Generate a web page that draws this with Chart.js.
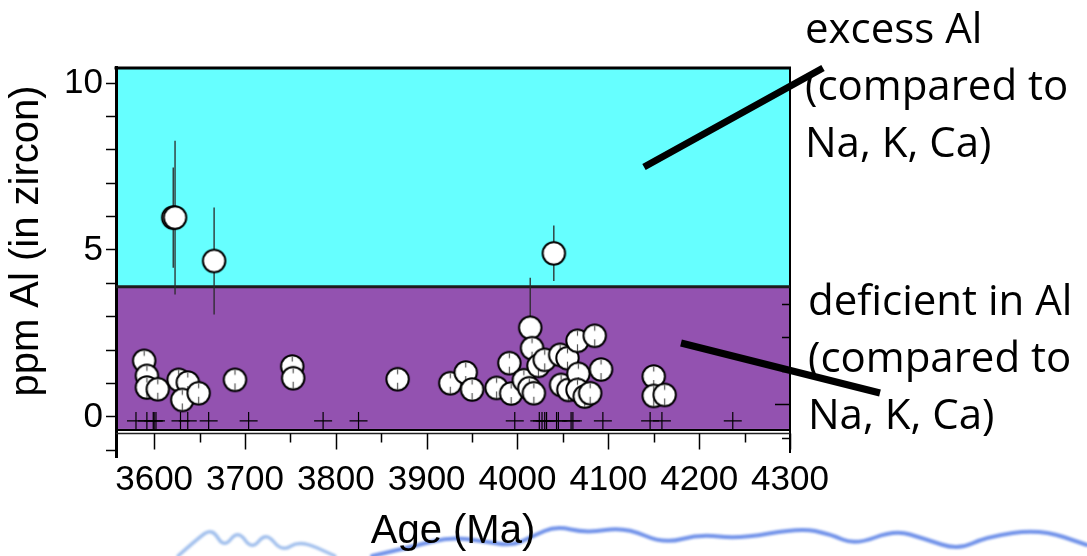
<!DOCTYPE html>
<html>
<head>
<meta charset="utf-8">
<title>Al in Hadean zircon</title>
<script src="https://cdn.jsdelivr.net/npm/chart.js@4.4.1/dist/chart.umd.min.js"></script>
<style>
  html, body { margin: 0; padding: 0; background: #fff; overflow: hidden; }
  canvas { display: block; }
</style>
</head>
<body>
<canvas id="c" width="1087" height="556"></canvas>
<script>
// ---- axis ticks ----
const ageTicks = [3600, 3700, 3800, 3900, 4000, 4100, 4200, 4300];
const ageMinorTicks = [3650, 3750, 3850, 3950, 4050, 4150, 4250];
const alTicks = [-1, 0, 1, 2, 3, 4, 5, 6, 7, 8, 9, 10];
const alTickLabels = [0, 5, 10];
const alRightTicks = [-0.63, 0.39, 1.39, 2.39, 3.39];

// ---- zircon grains with measured Al (ppm) ----
const grainAge = [3589, 3592, 3592, 3604, 3627, 3637, 3631, 3649, 3689, 3752,
                  3753, 3868, 3926, 3943, 3950, 3977, 3991, 3993, 4014, 4016,
                  4007, 4013, 4018, 4023, 4030, 4047, 4055, 4066, 4085, 4048,
                  4056, 4067, 4092, 4066, 4074, 4080, 4150, 4150, 4162,
                  3621, 3623, 3666, 4040];
const grainAl  = [1.68, 1.23, 0.88, 0.83, 1.11, 1.03, 0.51, 0.71, 1.11, 1.51,
                  1.16, 1.13, 1.01, 1.33, 0.82, 0.87, 1.61, 0.70, 2.67, 2.06,
                  1.10, 0.86, 0.71, 1.53, 1.71, 1.86, 1.76, 2.28, 2.43, 0.96,
                  0.81, 1.29, 1.42, 0.81, 0.61, 0.71, 1.21, 0.63, 0.66,
                  5.97, 5.97, 4.67, 4.90];
const grainAlErr = [0.3, 0.3, 0.3, 0.3, 0.3, 0.3, 0.3, 0.3, 0.3, 0.3,
                    0.3, 0.3, 0.3, 0.3, 0.3, 0.3, 0.3, 0.3, 1.5, 0.3,
                    0.3, 0.3, 0.3, 0.3, 0.3, 0.3, 0.3, 0.3, 0.3, 0.3,
                    0.3, 0.3, 0.3, 0.3, 0.3, 0.3, 0.3, 0.3, 0.3,
                    1.5, 2.3, 1.6, 0.83];

// ---- grains without a usable Al value (plotted as crosses at the base) ----
const blankAge = [3580, 3592, 3599, 3600, 3602, 3629, 3637, 3660, 3704, 3786,
                  3825, 3997, 4024, 4027, 4030, 4032, 4043, 4045, 4059, 4061,
                  4094, 4146, 4159, 4237];
const blankAl  = [-0.12, -0.12, -0.12, -0.12, -0.12, -0.12, -0.12, -0.12, -0.12, -0.12,
                  -0.12, -0.12, -0.12, -0.12, -0.12, -0.12, -0.12, -0.12, -0.12, -0.12,
                  -0.12, -0.12, -0.12, -0.12];

// ---- charge-balance field boundaries (ppm Al) ----
const balanceLevel = 3.9;     // Al balanced by Na, K, Ca
const deficientFloor = -0.36; // base of the shaded field

// circle markers: white disc, black rim; small-error grains show the short bar ticks
function makeDot(withTicks) {
  const c = document.createElement('canvas');
  c.width = 27; c.height = 27;
  const g = c.getContext('2d');
  g.beginPath();
  g.arc(13.5, 13.5, 11.2, 0, Math.PI * 2);
  g.fillStyle = '#fff';
  g.fill();
  g.lineWidth = 2;
  g.strokeStyle = '#000';
  g.stroke();
  if (withTicks) {
    g.strokeStyle = '#555';
    g.lineWidth = 1.2;
    g.beginPath();
    g.moveTo(13.5, 3.5); g.lineTo(13.5, 8.5);
    g.moveTo(13.5, 17); g.lineTo(13.5, 24);
    g.stroke();
  }
  return c;
}
const tickedDot = makeDot(true);
const plainDot = makeDot(false);

const fieldsPlugin = {
  id: 'fields',
  beforeDraw(chart) {
    const { ctx, chartArea: a, scales: { y } } = chart;
    const yb = y.getPixelForValue(balanceLevel);
    const yf = y.getPixelForValue(deficientFloor);
    ctx.save();
    ctx.fillStyle = '#66ffff';
    ctx.fillRect(a.left, a.top, a.right - a.left, yb - a.top);
    ctx.fillStyle = '#9352b0';
    ctx.fillRect(a.left, yb, a.right - a.left, yf - yb);

    // hand-drawn blue underline stroke along the foot of the page
    const faint = [[178, 556], [196, 540], [212, 528], [224, 548], [238, 530], [252, 550],
                   [266, 532], [282, 552], [300, 540], [335, 556]];
    const wave = [[372, 556], [415, 546], [450, 537], [482, 541], [512, 546], [533, 536],
                  [556, 526], [586, 533], [625, 527], [664, 544], [700, 534], [738, 539],
                  [800, 528], [830, 534], [855, 545], [895, 530], [925, 539], [958, 550],
                  [986, 537], [1040, 529], [1087, 545]];
    const stroke = (pts, color, w) => {
      ctx.beginPath();
      ctx.moveTo(pts[0][0], pts[0][1]);
      for (let i = 1; i < pts.length - 1; i++) {
        const mx = (pts[i][0] + pts[i + 1][0]) / 2, my = (pts[i][1] + pts[i + 1][1]) / 2;
        ctx.quadraticCurveTo(pts[i][0], pts[i][1], mx, my);
      }
      const l = pts[pts.length - 1];
      ctx.lineTo(l[0], l[1]);
      ctx.strokeStyle = color;
      ctx.lineWidth = w;
      ctx.lineCap = 'round';
      ctx.lineJoin = 'round';
      ctx.stroke();
    };
    ctx.filter = 'blur(1px)';
    stroke(faint, 'rgba(100,150,225,0.6)', 3.5);
    stroke(wave, 'rgba(65,110,225,0.75)', 4);
    ctx.restore();
  },
  beforeDatasetsDraw(chart) {
    const { ctx, chartArea: a, scales: { x, y } } = chart;
    ctx.save();
    ctx.strokeStyle = '#000';
    ctx.lineCap = 'butt';

    // frame: top and right edges
    ctx.lineWidth = 3;
    ctx.beginPath();
    ctx.moveTo(a.left - 1.5, a.top + 1);
    ctx.lineTo(a.right + 1, a.top + 1);
    ctx.stroke();
    ctx.lineWidth = 2;
    ctx.beginPath();
    ctx.moveTo(a.right, a.top);
    ctx.lineTo(a.right, y.getPixelForValue(-1.08));
    ctx.stroke();

    // boundary between excess and deficient fields
    ctx.strokeStyle = '#1c1c1c';
    ctx.lineWidth = 3;
    ctx.beginPath();
    ctx.moveTo(a.left, y.getPixelForValue(balanceLevel));
    ctx.lineTo(a.right, y.getPixelForValue(balanceLevel));
    ctx.stroke();

    // double base line
    ctx.strokeStyle = '#000';
    ctx.lineWidth = 2;
    ctx.beginPath();
    ctx.moveTo(a.left, y.getPixelForValue(-0.39));
    ctx.lineTo(a.right, y.getPixelForValue(-0.39));
    ctx.stroke();
    const base = y.getPixelForValue(-0.495);
    ctx.lineWidth = 1.5;
    ctx.strokeStyle = '#222';
    ctx.beginPath();
    ctx.moveTo(a.left, base);
    ctx.lineTo(a.right, base);
    ctx.stroke();

    // age ticks hanging below the base line
    ctx.strokeStyle = '#000';
    ctx.lineWidth = 1.5;
    ctx.beginPath();
    ageTicks.forEach(v => {
      const px = Math.round(x.getPixelForValue(v)) + 0.5;
      ctx.moveTo(px, base);
      ctx.lineTo(px, base + 16);
    });
    ageMinorTicks.forEach(v => {
      const px = Math.round(x.getPixelForValue(v)) + 0.5;
      ctx.moveTo(px, base);
      ctx.lineTo(px, base + 9);
    });
    ctx.stroke();

    // inward ticks on the right edge
    ctx.beginPath();
    alRightTicks.forEach((v, i) => {
      const py = Math.round(y.getPixelForValue(v)) + 0.5;
      const len = i === 1 ? 15 : 8;
      ctx.moveTo(a.right, py);
      ctx.lineTo(a.right - len, py);
    });
    ctx.stroke();

    // 1-sigma error bars behind the markers
    ctx.strokeStyle = '#2a2a2a';
    ctx.lineWidth = 1.3;
    ctx.beginPath();
    grainAge.forEach((age, i) => {
      const px = x.getPixelForValue(age);
      ctx.moveTo(px, y.getPixelForValue(grainAl[i] - grainAlErr[i]));
      ctx.lineTo(px, y.getPixelForValue(grainAl[i] + grainAlErr[i]));
    });
    ctx.stroke();
    ctx.restore();
  },
  afterDraw(chart) {
    const { ctx } = chart;
    ctx.save();

    // y-axis title
    ctx.fillStyle = '#000';
    ctx.font = '40px "Liberation Sans", Arial, sans-serif';
    ctx.textAlign = 'center';
    ctx.textBaseline = 'alphabetic';
    ctx.translate(38, 241);
    ctx.rotate(-Math.PI / 2);
    ctx.fillText('ppm Al (in zircon)', 0, 0);
    ctx.setTransform(1, 0, 0, 1, 0, 0);

    // pointer lines to the field labels
    ctx.strokeStyle = '#000';
    ctx.lineWidth = 7;
    ctx.lineCap = 'butt';
    ctx.beginPath();
    ctx.moveTo(644, 167);
    ctx.lineTo(823, 68);
    ctx.moveTo(681, 343);
    ctx.lineTo(880, 393);
    ctx.stroke();

    // field labels
    ctx.font = '42px "Open Sans", "Noto Sans", sans-serif';
    ctx.textAlign = 'left';
    ctx.textBaseline = 'alphabetic';
    ctx.fillText('excess Al', 805, 43);
    ctx.fillText('(compared to', 805, 100);
    ctx.fillText('Na, K, Ca)', 805, 157);
    ctx.fillText('deficient in Al', 808, 315);
    ctx.fillText('(compared to', 808, 372);
    ctx.fillText('Na, K, Ca)', 808, 429);
    ctx.restore();
  }
};

new Chart(document.getElementById('c'), {
  type: 'scatter',
  data: {
    datasets: [
      {
        label: 'Al in zircon',
        data: grainAge.map((a, i) => ({ x: a, y: grainAl[i] })),
        pointStyle: ctx => (grainAlErr[ctx.dataIndex] > 0.5 ? plainDot : tickedDot),
        pointRadius: 11,
        backgroundColor: '#fff',
        borderColor: '#000'
      },
      {
        label: 'no Al value',
        data: blankAge.map((a, i) => ({ x: a, y: blankAl[i] })),
        pointStyle: 'cross',
        pointRadius: 9,
        borderColor: '#000',
        borderWidth: 1.2
      }
    ]
  },
  options: {
    responsive: false,
    devicePixelRatio: 1,
    animation: false,
    events: [],
    layout: { padding: { top: 67, right: 297, left: 0, bottom: 0 } },
    plugins: { legend: { display: false }, tooltip: { enabled: false } },
    scales: {
      x: {
        type: 'linear',
        position: 'bottom',
        min: 3558,
        max: 4300,
        afterBuildTicks: s => { s.ticks = ageTicks.map(v => ({ value: v })); },
        afterFit: s => { s.height = 99; },
        grid: { display: false, drawTicks: false },
        border: { display: false },
        ticks: {
          autoSkip: false,
          maxRotation: 0,
          padding: 2,
          color: '#000',
          callback: v => String(v),
          font: { family: '"Liberation Sans", Arial, sans-serif', size: 35 }
        },
        title: {
          display: true,
          text: 'Age (Ma)',
          color: '#000',
          padding: { top: 0, bottom: 0 },
          font: { family: '"Liberation Sans", Arial, sans-serif', size: 40 }
        }
      },
      y: {
        type: 'linear',
        position: 'left',
        min: -1.2,
        max: 10.48,
        afterBuildTicks: s => { s.ticks = alTicks.map(v => ({ value: v })); },
        afterFit: s => { s.width = 116; },
        grid: {
          drawOnChartArea: false,
          drawTicks: true,
          tickLength: 10,
          tickColor: '#000',
          tickWidth: 1.5
        },
        border: { display: true, color: '#000', width: 3 },
        ticks: {
          autoSkip: false,
          padding: 3,
          color: '#000',
          callback: v => (alTickLabels.includes(v) ? String(v) : ''),
          font: { family: '"Liberation Sans", Arial, sans-serif', size: 35 }
        }
      }
    }
  },
  plugins: [fieldsPlugin]
});
</script>
</body>
</html>
